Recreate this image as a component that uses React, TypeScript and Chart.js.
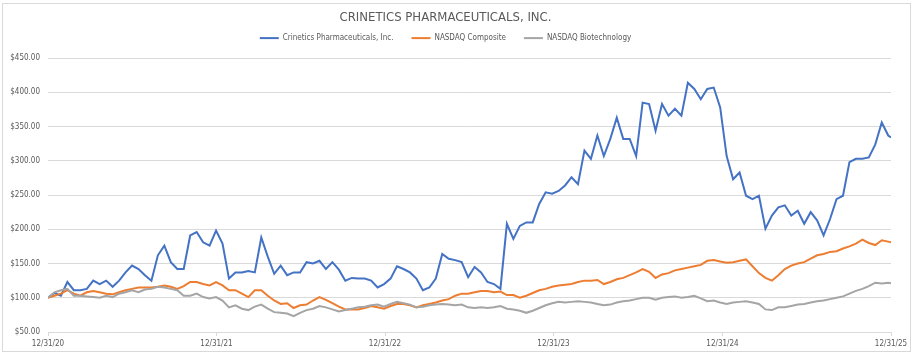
import React, { useEffect, useRef } from "react";
import { Chart, registerables } from "chart.js";

Chart.register(...registerables);

const TITLE = "CRINETICS PHARMACEUTICALS, INC.";
const SERIES_NAMES = ["Crinetics Pharmaceuticals, Inc.", "NASDAQ Composite", "NASDAQ Biotechnology"];
const COLORS = ["#4472C4", "#ED7D31", "#A5A5A5"];

// sample spacing (days) from 12/31/20; final point is 12/31/25
const STEP_DAYS = 14;
const END_DAY = 1826;
const YEAR_TICK_DAYS = [0, 365, 730, 1095, 1461, 1826];
const YEAR_TICK_LABELS = ["12/31/20", "12/31/21", "12/31/22", "12/31/23", "12/31/24", "12/31/25"];

const crinetics = [
  100, 107, 103, 123, 111, 111, 113, 125, 120, 125, 116, 125, 137, 147, 142, 133, 125, 162, 176, 152,
  142, 142, 191, 196, 181, 176, 198, 179, 128, 137, 137, 139, 137, 188, 160, 135, 147, 133, 137, 137,
  152, 150, 154, 142, 152, 141, 125, 129, 128, 128, 125, 115, 120, 128, 146, 142, 137, 128, 111, 115,
  128, 164, 157, 155, 152, 130, 145, 137, 123, 120, 113, 208, 186, 205, 210, 210, 237, 254, 252, 256,
  264, 276, 266, 315, 303, 337, 307, 332, 363, 332, 332, 307, 385, 383, 344, 383, 366, 376, 366, 414,
  405, 390, 405, 407, 378, 307, 273, 283, 249, 244, 249, 201, 220, 232, 235, 220, 227, 208, 225, 213,
  191, 215, 244, 249, 298, 303, 303, 305, 324, 356, 337, 334,
];

const nasdaqComposite = [
  100, 103, 106, 111, 106, 103, 108, 110, 108, 106, 105, 108, 111, 113, 115, 115, 115, 116, 118, 116,
  113, 117, 123, 123, 120, 118, 123, 118, 111, 111, 106, 101, 111, 111, 103, 96, 91, 92, 85, 89,
  90, 96, 101, 97, 92, 87, 83, 83, 83, 85, 88, 86, 84, 88, 91, 91, 89, 86, 89, 91,
  93, 96, 98, 103, 106, 106, 108, 110, 110, 108, 109, 104, 104, 100, 103, 107, 111, 113, 116, 118,
  119, 120, 123, 125, 125, 126, 120, 123, 127, 129, 133, 137, 142, 138, 129, 134, 136, 140, 142, 144,
  146, 148, 154, 155, 153, 151, 152, 154, 156, 146, 136, 129, 125, 133, 142, 147, 150, 152, 157, 162,
  164, 167, 168, 172, 175, 179, 185, 180, 177, 184, 182, 181,
];

const nasdaqBiotech = [
  100, 108, 111, 113, 103, 103, 102, 101, 100, 103, 101, 106, 108, 111, 108, 112, 113, 116, 115, 113,
  111, 103, 103, 106, 101, 99, 101, 96, 86, 89, 84, 82, 87, 90, 84, 79, 78, 77, 73, 78,
  82, 84, 88, 86, 83, 80, 82, 84, 86, 87, 89, 90, 87, 91, 94, 92, 90, 86, 87, 89,
  90, 91, 90, 89, 90, 86, 85, 86, 85, 86, 88, 84, 83, 81, 78, 81, 85, 89, 92, 94,
  93, 94, 95, 94, 93, 91, 89, 90, 93, 95, 96, 98, 100, 100, 97, 100, 101, 102, 100, 101,
  103, 99, 95, 96, 93, 91, 93, 94, 95, 93, 91, 83, 82, 86, 86, 88, 90, 91, 93, 95,
  96, 98, 100, 102, 106, 110, 113, 117, 122, 121, 122, 121,
];

const Y_MIN = 50;
const Y_MAX = 450;
const Y_STEP = 50;

const FONT = "'Liberation Sans Narrow', 'DejaVu Sans Condensed', 'Open Sans', sans-serif";
const TEXT_COLOR = "#595959";
const GRID_COLOR = "#d9d9d9";

function toPoints(values: number[]) {
  return values.map((v, i) => ({ x: i === values.length - 1 ? END_DAY : i * STEP_DAYS, y: v }));
}

export default function App() {
  const canvasRef = useRef<HTMLCanvasElement | null>(null);

  useEffect(() => {
    document.body.style.margin = "0";
    const canvas = canvasRef.current;
    if (!canvas) return;
    const seriesValues = [crinetics, nasdaqComposite, nasdaqBiotech];
    const chart = new Chart(canvas, {
      type: "line",
      data: {
        datasets: seriesValues.map((vals, k) => ({
          label: SERIES_NAMES[k],
          data: toPoints(vals),
          borderColor: COLORS[k],
          backgroundColor: COLORS[k],
          borderWidth: 2,
          pointRadius: 0,
          tension: 0,
          order: 3 - k,
        })),
      },
      options: {
        animation: false,
        responsive: false,
        maintainAspectRatio: false,
        layout: { padding: { left: 0, right: 22, top: 0, bottom: 0 } },
        plugins: {
          title: {
            display: true,
            text: TITLE,
            color: TEXT_COLOR,
            font: { family: FONT, size: 13, weight: "normal" },
            padding: { top: 10, bottom: -9.5 },
          },
          legend: {
            display: true,
            labels: {
              color: TEXT_COLOR,
              font: { family: FONT, size: 8 },
              usePointStyle: true,
              pointStyle: "line",
              pointStyleWidth: 19,
              padding: 18,
              sort: (a: any, b: any) => a.datasetIndex - b.datasetIndex,
            },
          },
          tooltip: { enabled: false },
        },
        scales: {
          x: {
            type: "linear",
            min: 0,
            max: END_DAY,
            afterBuildTicks: (axis: any) => {
              axis.ticks = YEAR_TICK_DAYS.map((v) => ({ value: v }));
            },
            afterFit: (axis: any) => {
              axis.height = 23;
            },
            ticks: {
              color: TEXT_COLOR,
              font: { family: FONT, size: 8 },
              padding: 3,
              maxRotation: 0,
              autoSkip: false,
              callback: (value: any) => {
                const idx = YEAR_TICK_DAYS.indexOf(Number(value));
                return idx >= 0 ? YEAR_TICK_LABELS[idx] : "";
              },
            },
            grid: {
              drawOnChartArea: false,
              drawTicks: true,
              tickLength: 4,
              color: GRID_COLOR,
            },
            border: { display: true, color: GRID_COLOR, width: 1 },
          },
          spacer: {
            type: "linear",
            axis: "x",
            position: "top",
            display: true,
            min: 0,
            max: 1,
            afterFit: (axis: any) => {
              axis.height = 6;
            },
            ticks: { display: false },
            grid: { display: false, drawTicks: false },
            border: { display: false },
          },
          y: {
            min: Y_MIN,
            max: Y_MAX,
            afterFit: (axis: any) => {
              axis.width = 48;
            },
            ticks: {
              stepSize: Y_STEP,
              color: TEXT_COLOR,
              font: { family: FONT, size: 8 },
              padding: 8,
              callback: (value: any) => "$" + Number(value).toFixed(2),
            },
            grid: { color: GRID_COLOR, drawTicks: false },
            border: { display: false },
          },
        },
      },
    });
    return () => chart.destroy();
  }, []);

  return (
    <div style={{ position: "relative", width: 913, height: 355, background: "#fff" }}>
      <canvas ref={canvasRef} width={913} height={355} style={{ display: "block" }} />
      <div
        style={{
          position: "absolute",
          left: 2,
          top: 3,
          width: 907,
          height: 347,
          border: `1px solid ${GRID_COLOR}`,
          pointerEvents: "none",
        }}
      />
    </div>
  );
}
